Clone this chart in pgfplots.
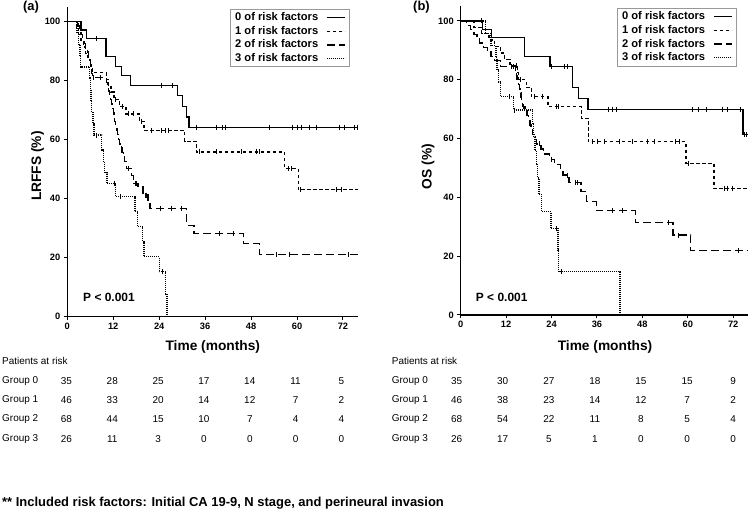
\documentclass[border=0pt]{standalone}
\usepackage{fontspec}
\setmainfont{Liberation Sans}
\usepackage{pgfplots}
\pgfplotsset{compat=1.18}

\pgfplotsset{
  kmaxis/.style={
    scale only axis, anchor=south west,
    xmin=0, xmax=76, ymin=0, ymax=105,
    axis lines=left,
    axis line style={-, line width=1.4bp},
    xtick={0,12,...,72}, ytick={0,20,...,100},
    tick align=outside, major tick length=3.5bp,
    tick style={line width=1bp, black},
    ticklabel style={font=\fontsize{9.3}{10}\selectfont\bfseries},
    /pgf/number format/assume math mode=true,
    xticklabel style={yshift=1bp},
    legend plot pos=right,
    legend cell align=left,
    legend image code/.code={\draw[##1] (0bp,0bp) -- (18bp,0bp);},
    legend style={draw=gray!80, line width=0.6bp, anchor=north east,
      font=\fontsize{11.2}{11}\selectfont\bfseries,
      nodes={inner sep=1bp, text height=8.2bp, text depth=2.2bp},
      row sep=1.2bp, inner xsep=4bp, inner ysep=2bp,
      /tikz/every odd column/.append style={column sep=7bp}},
  },
  g0/.style={black, line width=1.3bp, const plot},
  g1/.style={black, line width=1.3bp, const plot, dash pattern=on 3.5bp off 2.5bp},
  g2/.style={black, line width=1.3bp, const plot, dash pattern=on 8bp off 4bp},
  g3/.style={black, line width=1.3bp, const plot, dash pattern=on 1bp off 1bp},
  cens/.style={black, only marks, mark=|, mark size=2.5bp, forget plot,
    mark options={solid, line width=0.8bp}},
}

\begin{document}
\begin{tikzpicture}
\path (0,0) rectangle (750bp,519bp);

% ---------- (a) LRFFS ----------
\begin{axis}[kmaxis, at={(67.3bp,202.3bp)}, width=291bp, height=310bp,
  legend style={at={(0.971,0.992)}}]
\addplot[g0] coordinates {(0,100) (3.6,97.1) (5.0,94.3) (10.1,88.2) (12.5,84.8)
  (14.2,81.6) (16.5,78.4) (28.8,74.9) (30.1,71.3) (31.1,67.6) (31.8,64.2) (76,64.2)};
\addlegendentry{0 of risk factors}
\addplot[g1] coordinates {(0,100) (2.4,97.8) (3.0,95.7) (3.6,93.5) (4.2,91.3)
  (4.8,89.1) (5.4,87.0) (6.0,84.8) (6.6,82.6) (10.2,80.4) (10.7,78.3) (11.4,76.1)
  (12.2,73.6) (13.6,71.2) (15.3,68.7) (18.8,66.2) (20.0,63.1) (30.7,59.4)
  (33.7,55.8) (56.8,50.2) (60.3,43.1) (76,43.1)};
\addlegendentry{1 of risk factors}
\addplot[g2] coordinates {(0,100) (2.8,98.5) (3.2,97.1) (3.6,95.6) (4.0,94.1)
  (4.4,92.6) (4.8,91.2) (5.2,89.7) (5.5,88.2) (5.8,86.8) (6.0,85.3) (6.2,83.8)
  (6.4,82.4) (6.6,80.9) (10.2,79.4) (10.5,77.9) (10.8,76.4) (11.1,75.0)
  (11.3,73.5) (11.6,72.0) (11.8,70.5) (12.0,69.0) (12.2,67.6) (12.4,66.1)
  (12.6,64.6) (12.8,63.1) (13.2,61.6) (13.4,60.1) (13.6,58.6) (13.8,57.1)
  (14.3,55.6) (14.7,54.1) (15.0,52.6) (15.5,50.2) (16.8,47.9) (17.2,45.1)
  (18.5,44.0) (19.8,41.2) (21.1,39.5) (21.6,36.7) (31.2,31.0) (33.1,28.2)
  (46.0,24.8) (50.2,21.1) (76,21.1)};
\addlegendentry{2 of risk factors}
\addplot[g3] coordinates {(0,100) (2.5,96.2) (3.0,92.3) (3.3,88.5) (3.5,84.6)
  (5.8,80.8) (6.0,76.9) (6.2,73.1) (6.4,69.2) (6.7,65.4) (7.0,61.5) (9.0,56.5)
  (9.4,52.6) (9.8,48.8) (10.4,45.1) (12.6,40.7) (17.7,35.6) (18.3,30.5)
  (19.6,25.4) (20.0,20.3) (24.0,15.2) (25.6,7.6) (26.0,0)};
\addlegendentry{3 of risk factors}
% censored observations
\addplot[cens] coordinates {(7.7,94.3) (24.6,78.4) (27.5,78.4) (33.8,64.2)
  (39.0,64.2) (40.5,64.2) (41.4,64.2) (52.7,64.2) (58.8,64.2) (60.1,64.2)
  (61.1,64.2) (63.3,64.2) (65.1,64.2) (71.1,64.2) (72.4,64.2) (75.1,64.2) (75.7,64.2)};
\addplot[cens] coordinates {(12.6,73.6) (14.4,71.2) (15.9,68.7) (17.2,68.7)
  (19.4,66.2) (22.0,63.1) (24.6,63.1) (25.7,63.1) (26.5,63.1) (34.5,55.8)
  (39.0,55.8) (45.5,55.8) (49.3,55.8) (50.1,55.8) (57.7,50.2) (58.5,50.2)
  (60.9,43.1) (70.3,43.1) (71.6,43.1)};
\addplot[cens] coordinates {(6.9,80.9) (8.6,80.9) (13.0,63.1) (14.0,57.1)
  (15.9,50.2) (17.7,45.1) (18.1,45.1) (20.3,41.2) (20.7,41.2) (24.2,36.7)
  (27.2,36.7) (29.8,36.7) (39.8,28.2) (43.3,28.2) (54.6,21.1) (57.9,21.1) (73.3,21.1)};
\addplot[cens] coordinates {(7.7,61.5) (12.2,45.1) (13.8,40.7) (24.8,15.2)};
\end{axis}

% ---------- (b) OS ----------
\begin{axis}[kmaxis, at={(460.7bp,204bp)}, width=287.6bp, height=308.7bp,
  legend style={at={(0.96,0.9935)}}]
\addplot[g0] coordinates {(0,100) (5.8,97.1) (8.2,94.3) (16.8,88.0) (23.6,84.6)
  (29.6,77.4) (31.1,73.7) (33.6,70.0) (74.6,61.3) (76,61.3)};
\addlegendentry{0 of risk factors}
\addplot[g1] coordinates {(0,100) (3.5,97.8) (5.5,95.7) (7.5,93.5) (9.0,91.3)
  (10.5,89.1) (11.5,87.0) (13.0,84.8) (15.0,82.4) (15.3,80.0) (17.3,77.4)
  (18.7,74.2) (23.1,70.8) (31.9,66.9) (33.7,58.9) (59.5,51.6) (66.9,43.1) (76,43.1)};
\addlegendentry{1 of risk factors}
\addplot[g2] coordinates {(0,100) (1.5,98.5) (2.5,97.0) (3.5,95.5) (4.3,94.0)
  (5.0,92.5) (6.0,91.0) (7.0,89.5) (8.0,88.0) (9.0,86.5) (10.5,84.5) (14.4,83.0)
  (14.7,81.5) (14.9,80.0) (15.2,78.5) (15.5,77.0) (15.7,75.5) (15.9,74.0)
  (16.1,72.5) (16.3,71.0) (17.0,69.4) (17.5,67.8) (18.0,66.2) (18.3,64.6)
  (18.6,63.0) (19.0,61.4) (19.5,59.8) (20.0,58.2) (21.2,56.5) (21.8,54.8)
  (23.4,53.0) (24.8,51.2) (26.3,49.4) (27.0,47.6) (28.6,45.0) (31.8,41.9)
  (33.2,38.5) (35.8,35.6) (46.1,31.5) (56.1,27.2) (60.8,21.9) (76,21.9)};
\addlegendentry{2 of risk factors}
\addplot[g3] coordinates {(0,100) (6.5,95.8) (8.0,91.7) (9.3,87.5) (9.6,83.3)
  (10.0,79.2) (10.5,74.3) (13.9,69.7) (19.0,65.1) (19.3,60.5) (19.6,55.9)
  (20.0,51.3) (20.3,46.6) (20.7,41.0) (21.3,35.1) (23.9,29.5) (25.7,22.1)
  (25.9,14.7) (42.1,0)};
\addlegendentry{3 of risk factors}
\addplot[cens] coordinates {(24.0,84.6) (27.4,84.6) (28.3,84.6) (39.1,70.0)
  (40.1,70.0) (41.1,70.0) (61.1,70.0) (62.8,70.0) (64.9,70.0) (69.1,70.0)
  (70.4,70.0) (73.9,70.0) (74.9,61.3) (75.4,61.3)};
\addplot[cens] coordinates {(14.7,84.8) (15.8,80.0) (19.5,74.2) (21.7,74.2)
  (25.3,70.8) (25.9,70.8) (34.9,58.9) (36.2,58.9) (38.0,58.9) (41.9,58.9)
  (45.4,58.9) (49.4,58.9) (51.1,58.9) (56.8,58.9) (57.7,58.9) (60.3,51.6)
  (69.6,43.1) (70.4,43.1) (71.7,43.1)};
\addplot[cens] coordinates {(13.4,84.5) (14.0,84.5) (16.6,71.0) (20.9,58.2)
  (23.9,53.0) (28.2,47.6) (30.4,45.0) (30.8,45.0) (40.2,35.6) (42.8,35.6)
  (54.9,31.5) (57.5,27.2) (73.5,21.9)};
\addplot[cens] coordinates {(5.5,100) (12.8,74.3) (14.3,69.7) (25.3,29.5) (26.5,14.7)};
\end{axis}

% ---------- labels ----------
\begin{scope}[every node/.style={inner sep=0pt}]
\node[font=\fontsize{13}{14}\selectfont\bfseries] at (31bp,511.5bp) {(a)};
\node[font=\fontsize{13}{14}\selectfont\bfseries] at (421.5bp,511.5bp) {(b)};
\node[rotate=90, font=\fontsize{13.8}{15}\selectfont\bfseries] at (37.5bp,353bp) {LRFFS (\%)};
\node[rotate=90, font=\fontsize{13.8}{15}\selectfont\bfseries] at (428bp,352.5bp) {OS (\%)};
\node[font=\fontsize{13.8}{15}\selectfont\bfseries] at (212.8bp,172bp) {Time (months)};
\node[font=\fontsize{13.8}{15}\selectfont\bfseries] at (605bp,172bp) {Time (months)};
\node[font=\fontsize{12}{13}\selectfont\bfseries] at (109bp,221.5bp) {P < 0.001};
\node[font=\fontsize{12}{13}\selectfont\bfseries] at (501.7bp,222bp) {P < 0.001};

% patients at risk
\begin{scope}[font=\fontsize{10}{11}\selectfont]
\node[anchor=west] at (2bp,158.3bp) {Patients at risk};
\node[anchor=west] at (391.7bp,158.3bp) {Patients at risk};
\foreach \g/\yy in {0/138.3,1/119,2/99.7,3/80}{
  \node[anchor=west] at (2bp,\yy bp) {Group \g};
  \node[anchor=west] at (391.7bp,\yy bp) {Group \g};
}
\foreach \row/\yy in {{35,28,25,17,14,11,5}/138.3,{46,33,20,14,12,7,2}/119,
    {68,44,15,10,7,4,4}/99.7,{26,11,3,0,0,0,0}/80}{
  \foreach \n [count=\k from 0] in \row
    \node at ({66.7+45.83*\k bp},\yy bp) {\n};
}
\foreach \row/\yy in {{35,30,27,18,15,15,9}/138.3,{46,38,23,14,12,7,2}/119,
    {68,54,22,11,8,5,4}/99.7,{26,17,5,1,0,0,0}/80}{
  \foreach \n [count=\k from 0] in \row
    \node at ({458.3+46.1*\k bp},\yy bp) {\n};
}
\end{scope}

\node[anchor=west, font=\fontsize{13}{14}\selectfont\bfseries] at (2bp,16bp)
  {** Included risk factors: Initial CA 19-9, N stage, and perineural invasion};
\end{scope}
\end{tikzpicture}
\end{document}
